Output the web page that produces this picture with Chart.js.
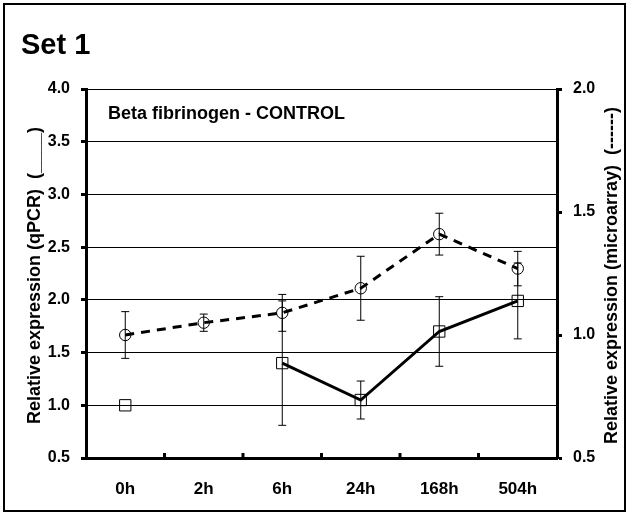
<!DOCTYPE html>
<html>
<head>
<meta charset="utf-8">
<title>Set 1 - Beta fibrinogen</title>
<script src="https://cdn.jsdelivr.net/npm/chart.js@4.4.1/dist/chart.umd.min.js"></script>
<style>
  body { margin: 0; background: #fff; }
  canvas { display: block; }
</style>
</head>
<body>
<canvas id="chart" width="629" height="515"></canvas>
<script>
// Time points
const timePoints = ["0h", "2h", "6h", "24h", "168h", "504h"];

// qPCR (left axis, squares, solid line)
const qpcrValues = [1.00, null, 1.40, 1.05, 1.70, 1.99];
const qpcrErrors = [0, null, 0.59, 0.18, 0.33, 0.36];

// Microarray (right axis, circles, dashed line)
const microValues = [1.00, 1.05, 1.09, 1.19, 1.41, 1.27];
const microErrors = [0.095, 0.035, 0.075, 0.13, 0.085, 0.07];

// Axis ticks
const leftTicks = [0.5, 1.0, 1.5, 2.0, 2.5, 3.0, 3.5, 4.0];
const rightTicks = [0.5, 1.0, 1.5, 2.0];

const FONT = "Arial, 'Liberation Sans', sans-serif";

// Error bars, inward x ticks, titles and frame
const extras = {
    id: "extras",
    beforeDatasetsDraw(chart) {
        const ctx = chart.ctx;
        const x = chart.scales.x;
        ctx.save();
        ctx.strokeStyle = "#000";
        ctx.lineWidth = 1;
        [[0, qpcrErrors, "y"], [1, microErrors, "y1"]].forEach(([di, errs, axis]) => {
            const vals = chart.data.datasets[di].data;
            const ys = chart.scales[axis];
            vals.forEach((v, i) => {
                if (v == null || !errs[i]) return;
                const px = x.getPixelForValue(i);
                const top = ys.getPixelForValue(v + errs[i]);
                const bot = ys.getPixelForValue(v - errs[i]);
                ctx.beginPath();
                ctx.moveTo(px, top); ctx.lineTo(px, bot);
                ctx.moveTo(px - 4, top); ctx.lineTo(px + 4, top);
                ctx.moveTo(px - 4, bot); ctx.lineTo(px + 4, bot);
                ctx.stroke();
            });
        });
        ctx.restore();
    },
    afterDraw(chart) {
        const ctx = chart.ctx;
        const area = chart.chartArea;
        const x = chart.scales.x;
        ctx.save();

        // inward ticks between categories
        ctx.strokeStyle = "#000";
        ctx.lineWidth = 3;
        for (let i = 0; i < timePoints.length - 1; i++) {
            const bx = (x.getPixelForValue(i) + x.getPixelForValue(i + 1)) / 2;
            ctx.beginPath();
            ctx.moveTo(bx, area.bottom);
            ctx.lineTo(bx, area.bottom - 5);
            ctx.stroke();
        }

        // outer frame
        ctx.lineWidth = 2;
        ctx.strokeRect(4, 4, 621, 507);

        ctx.fillStyle = "#000";
        ctx.textBaseline = "alphabetic";
        ctx.textAlign = "left";
        ctx.font = "bold 29px " + FONT;
        ctx.fillText("Set 1", 21, 54);

        ctx.font = "bold 18px " + FONT;
        ctx.fillText("Beta fibrinogen - CONTROL", 108, 119);

        // axis titles (both read bottom to top)
        const midY = (area.top + area.bottom) / 2 + 2;
        ctx.font = "bold 18px " + FONT;
        ctx.textAlign = "center";
        ctx.save();
        ctx.translate(40, midY);
        ctx.rotate(-Math.PI / 2);
        ctx.fillText("Relative expression (qPCR)  (____)", 0, 0);
        ctx.restore();
        ctx.save();
        ctx.translate(617, midY);
        ctx.rotate(-Math.PI / 2);
        ctx.fillText("Relative expression (microarray)  (------)", 0, 0);
        ctx.restore();

        ctx.restore();
    }
};

new Chart(document.getElementById("chart"), {
    type: "line",
    data: {
        labels: timePoints,
        datasets: [
            {
                label: "qPCR",
                data: qpcrValues,
                yAxisID: "y",
                borderColor: "#000",
                borderWidth: 3,
                pointStyle: "rect",
                pointRadius: 8,
                pointBorderWidth: 1,
                pointBorderColor: "#000",
                pointBackgroundColor: "rgba(0,0,0,0)",
                spanGaps: false,
                tension: 0
            },
            {
                label: "microarray",
                data: microValues,
                yAxisID: "y1",
                borderColor: "#000",
                borderWidth: 3,
                borderDash: [9, 7],
                pointStyle: "circle",
                pointRadius: 5.7,
                pointBorderWidth: 1,
                pointBorderColor: "#000",
                pointBackgroundColor: "rgba(0,0,0,0)",
                tension: 0
            }
        ]
    },
    options: {
        responsive: false,
        animation: false,
        devicePixelRatio: 1,
        layout: { padding: { top: 89, left: 0, right: 0, bottom: 0 } },
        plugins: {
            legend: { display: false },
            tooltip: { enabled: false }
        },
        scales: {
            x: {
                offset: true,
                grid: { display: false, drawTicks: false },
                border: { display: true, color: "#000", width: 3 },
                ticks: {
                    color: "#000",
                    padding: 21,
                    font: { family: FONT, size: 17, weight: "bold" }
                },
                afterFit: (s) => { s.height = 57; }
            },
            y: {
                position: "left",
                min: 0.5,
                max: 4.0,
                afterBuildTicks: (s) => { s.ticks = leftTicks.map(v => ({ value: v })); },
                grid: { color: "#000", lineWidth: 1, tickLength: 5, tickWidth: 3, tickColor: "#000" },
                border: { display: true, color: "#000", width: 3 },
                ticks: {
                    color: "#000",
                    padding: 11,
                    font: { family: FONT, size: 16, weight: "bold" },
                    callback: (v) => v.toFixed(1)
                },
                afterFit: (s) => { s.width = 86; }
            },
            y1: {
                position: "right",
                min: 0.5,
                max: 2.0,
                afterBuildTicks: (s) => { s.ticks = rightTicks.map(v => ({ value: v })); },
                grid: { drawOnChartArea: false, tickLength: 5, tickWidth: 3, tickColor: "#000" },
                border: { display: true, color: "#000", width: 3 },
                ticks: {
                    color: "#000",
                    padding: 11,
                    font: { family: FONT, size: 16, weight: "bold" },
                    callback: (v) => v.toFixed(1)
                },
                afterFit: (s) => { s.width = 72; }
            }
        }
    },
    plugins: [extras]
});
</script>
</body>
</html>
